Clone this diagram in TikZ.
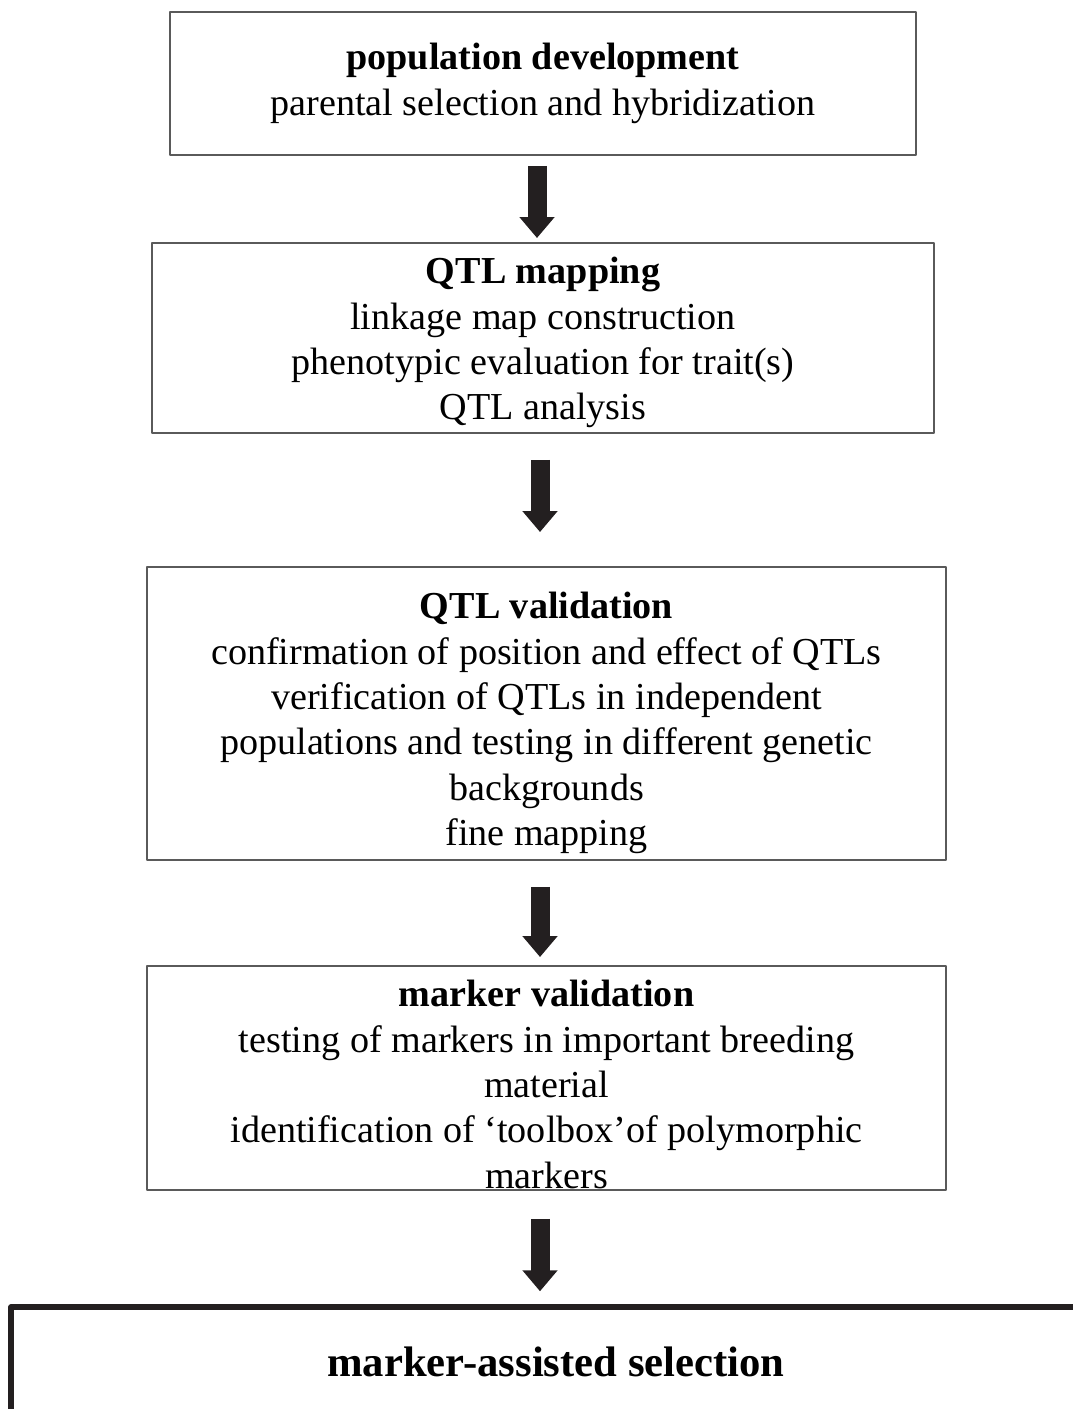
\documentclass[tikz,border=0pt]{standalone}
\usepackage{fontspec}
\setmainfont{Liberation Serif}
\usetikzlibrary{arrows.meta}
\definecolor{boxgray}{RGB}{90,90,90}
\definecolor{arrowblack}{RGB}{35,31,32}
% strut that pushes the text of a box a little lower
\newcommand{\toppad}[1]{\rule{0pt}{#1}}
\begin{document}
\begin{tikzpicture}[x=0.02cm, y=-0.02cm, line join=round,
    stage/.style={draw=boxgray, line width=0.04cm, align=center, inner sep=0pt, font=\fontsize{21.7}{25.8}\selectfont},
    goal/.style={draw=arrowblack, line width=0.11cm, align=center, inner sep=0pt, font=\fontsize{24.3}{29}\selectfont\bfseries},
    down/.style={draw=arrowblack, line width=0.38cm, -{Triangle[width=0.68cm,length=0.42cm]}}]
	\useasboundingbox (0,0) rectangle (1072,1409);
	\node[stage, minimum width=14.92cm, minimum height=2.86cm] (popdev) at (543,83.5)
		{\textbf{population development}\\ parental selection and hybridization};
	\node[stage, minimum width=15.64cm, minimum height=3.8cm] (qtlmap) at (543,338)
		{\toppad{20.5pt}\textbf{QTL mapping}\\ linkage map construction\\ phenotypic evaluation for trait(s)\\ QTL analysis};
	\node[stage, minimum width=15.98cm, minimum height=5.86cm] (qtlval) at (546.5,713.5)
		{\toppad{26pt}\textbf{QTL validation}\\ confirmation of position and effect of QTLs\\ verification of QTLs in independent\\ populations and testing in different genetic\\ backgrounds\\ fine mapping};
	\node[stage, minimum width=15.98cm, minimum height=4.48cm] (mkval) at (546.5,1078)
		{\toppad{22.5pt}\textbf{marker validation}\\ testing of markers in important breeding\\ material\\ identification of `toolbox'of polymorphic\\ markers};
	\node[goal, minimum width=21.8cm, minimum height=2.2cm] (mas) at (556,1362) {marker-assisted selection};
	% arrows between stages
	\draw[down, shorten <=0.2cm, shorten >=0.08cm] ([xshift=-0.12cm]popdev.south) -- ([xshift=-0.12cm]qtlmap.north);
	\draw[down, shorten <=0.52cm, shorten >=0.68cm] ([xshift=-0.06cm]qtlmap.south) -- ([xshift=-0.06cm]qtlval.north -| qtlmap.south);
	\draw[down, shorten <=0.52cm, shorten >=0.16cm] ([xshift=-0.13cm]qtlval.south) -- ([xshift=-0.13cm]mkval.north);
	\draw[down, shorten <=0.56cm, shorten >=0.26cm] ([xshift=-0.13cm]mkval.south) -- ([xshift=-0.13cm]mkval.south |- mas.north);
\end{tikzpicture}
\end{document}
